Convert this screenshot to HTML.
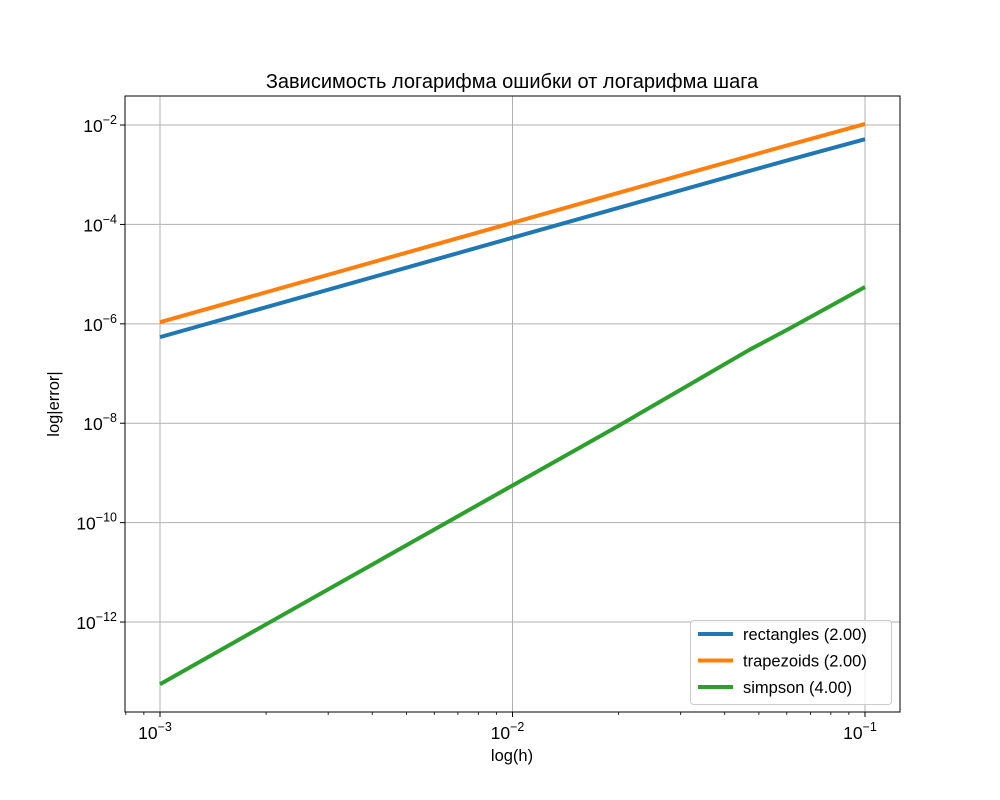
<!DOCTYPE html>
<html><head><meta charset="utf-8"><style>body{margin:0;background:#fff}svg{display:block;font-family:"Liberation Sans","DejaVu Sans",sans-serif}</style></head>
<body>
<svg id="c" width="1000" height="800" xmlns="http://www.w3.org/2000/svg"></svg>
<script>
const hValues=[0.001,0.002,0.005,0.01,0.02,0.036,0.047,0.061,0.1];
const rectangles=[5.4e-7,2.16e-6,1.35e-5,5.4e-5,2.16e-4,7.0e-4,1.19e-3,2.0e-3,5.2e-3];
const trapezoids=[1.08e-6,4.32e-6,2.7e-5,1.08e-4,4.32e-4,1.4e-3,2.38e-3,4.0e-3,1.05e-2];
const simpson=[5.6e-14,9.0e-13,3.5e-11,5.6e-10,8.9e-9,1.0e-7,3.0e-7,8.0e-7,5.5e-6];
const xTicks=[-3,-2,-1];
const yTicks=[-12,-10,-8,-6,-4,-2];
const seriesNames=["rectangles (2.00)","trapezoids (2.00)","simpson (4.00)"];
const colors=["#1f77b4","#ff7f0e","#2ca02c"];
const L=125,R=900,T=96,B=712;
const xmin=-3.0993,xmax=-0.9007,ymin=-13.81,ymax=-1.416;
const X=v=>L+(Math.log10(v)-xmin)/(xmax-xmin)*(R-L);
const Y=v=>T+(ymax-Math.log10(v))/(ymax-ymin)*(B-T);
const svg=document.getElementById('c');const NS="http://www.w3.org/2000/svg";
function el(t,a,p){const e=document.createElementNS(NS,t);for(const k in a)e.setAttribute(k,a[k]);(p||svg).appendChild(e);return e;}
xTicks.forEach(t=>{const x=X(Math.pow(10,t));
const g=el('line',{x1:x,x2:x,y1:T,y2:B,stroke:'#b0b0b0','stroke-width':1});


el('line',{x1:x,x2:x,y1:B,y2:B+5,stroke:'#000'});
const tx=el('text',{x:x-5,y:B+27,'font-size':17.5,'text-anchor':'middle'});


tx.innerHTML='10<tspan dy="-8" font-size="12.5">\u2212'+(-t)+'</tspan>';});
for(let d=-4;d<=-1;d++)for(let m=2;m<=9;m++){const v=m*Math.pow(10,d);const x=X(v);if(x<L||x>R)continue;el('line',{x1:x,x2:x,y1:B,y2:B+3,stroke:'#000','stroke-width':0.8});}
yTicks.forEach(t=>{const y=Y(Math.pow(10,t));
const g=el('line',{x1:L,x2:R,y1:y,y2:y,stroke:'#b0b0b0','stroke-width':1});


el('line',{x1:L-5,x2:L,y1:y,y2:y,stroke:'#000'});
const tx=el('text',{x:L-8,y:y+7,'font-size':17.5,'text-anchor':'end'});


tx.innerHTML='10<tspan dy="-8" font-size="12.5">\u2212'+(-t)+'</tspan><tspan dy="8"></tspan>';});
[rectangles,trapezoids,simpson].forEach((s,i)=>{
const p=el('polyline',{points:s.map((v,j)=>X(hValues[j])+','+Y(v)).join(' '),fill:'none',stroke:colors[i],'stroke-width':4,'stroke-linejoin':'round'});

});
const fr=el('rect',{x:L,y:T,width:R-L,height:B-T,fill:'none',stroke:'#000','stroke-width':1});


const lg=el('rect',{x:690.5,y:620.5,width:201,height:84,rx:3,fill:'#fff','fill-opacity':0.8,stroke:'#ccc'});


seriesNames.forEach((n,i)=>{const y=634+i*26.5;
const l=el('line',{x1:698,x2:733,y1:y,y2:y,stroke:colors[i],'stroke-width':4});


const t=el('text',{x:743,y:y+6,'font-size':16.5});t.textContent=n;

});
const ti=el('text',{x:512,y:88,'font-size':20,'text-anchor':'middle'});ti.textContent='Зависимость логарифма ошибки от логарифма шага';


const xl=el('text',{x:512,y:761,'font-size':16.5,'text-anchor':'middle'});xl.textContent='log(h)';


const yl=el('text',{x:0,y:0,'font-size':16.5,'text-anchor':'middle',transform:'translate(59,404) rotate(-90)'});yl.textContent='log|error|';


</script>
</body></html>
